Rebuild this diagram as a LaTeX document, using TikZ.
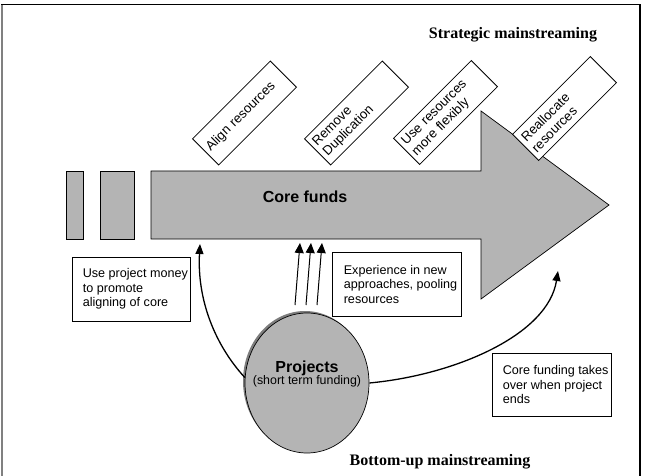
\documentclass[tikz,border=0pt]{standalone}
\usepackage{fontspec}
\setmainfont{Liberation Serif}
\setsansfont{Liberation Sans}
\usetikzlibrary{arrows.meta,shapes.geometric}
\definecolor{fillgray}{RGB}{180,180,180}
\definecolor{shadowgray}{RGB}{125,125,125}
\begin{document}
\begin{tikzpicture}[x=1pt,y=-1pt,
  body/.style={font=\sffamily\fontsize{12.6}{14.5}\selectfont},
  txtbox/.style={draw, fill=white, line width=0.8pt, inner sep=0pt},
  boxtext/.style={body, align=left, anchor=west, inner sep=0pt},
  rotbox/.style={draw, fill=white, line width=0.8pt, rotate=45,
    minimum width=110pt, minimum height=37pt, text width=102pt,
    inner xsep=4pt, inner ysep=0pt, align=left,
    font=\sffamily\fontsize{13.2}{14.8}\selectfont},
  title/.style={font=\rmfamily\bfseries\fontsize{16}{18}\selectfont},
  flow/.style={line width=1.3pt, -{Triangle[length=10pt,width=8pt]}},
  push/.style={line width=1pt, -{Triangle[length=10pt,width=9pt]}},
]
\useasboundingbox (0,0) rectangle (648,476);
% frame
\draw[line width=2pt, gray] (2,476) -- (2,4);
\draw[line width=1.3pt] (1,4.5) -- (640,4.5) -- (640,476);

% core funds arrow
\draw[fill=fillgray, line width=0.7pt] (151,171) -- (481,171) -- (481,111) -- (609,205)
  -- (481,299) -- (481,239) -- (151,239) -- cycle;
\draw[fill=fillgray, line width=0.7pt] (66,171) rectangle (83,239);
\draw[fill=fillgray, line width=0.7pt] (100,171) rectangle (134,239);
\node[font=\sffamily\bfseries\fontsize{16}{18}\selectfont] (core) at (305,197) {Core funds};

% rotated boxes
\node[rotbox] (align) at (244.5,113) {Align resources};
\node[rotbox] (remove) at (356.5,113) {Remove\\Duplication};
\node[rotbox] (flex) at (445.5,112.5) {Use resources\\more flexibly};
\node[rotbox] (realloc) at (564.5,108.5) {Reallocate\\resources};

% titles
\node[title] (strat) at (513,35) {Strategic mainstreaming};
\node[title] (bottom) at (440,462) {Bottom-up mainstreaming};

% text boxes
\node[txtbox, minimum width=118pt, minimum height=64pt] (b1) at (131,289) {};
\node[boxtext] (b1t) at ([xshift=11pt]b1.west) {Use project money\\to promote\\aligning of core};
\node[txtbox, minimum width=129pt, minimum height=64pt] (b2) at (396.5,284) {};
\node[boxtext] (b2t) at ([xshift=12pt]b2.west) {Experience in new\\approaches, pooling\\resources};
\node[txtbox, minimum width=119pt, minimum height=63pt] (b3) at (551.5,384.5) {};
\node[boxtext] (b3t) at ([xshift=11pt]b3.west) {Core funding takes\\over when project\\ends};

% projects ellipse
\fill[shadowgray] (305,381) ellipse [x radius=62pt, y radius=70pt];
\node[ellipse, draw, fill=fillgray, line width=0.7pt, minimum width=124pt, minimum height=140pt, inner sep=0pt] (proj) at (307,383) {};
\node[align=center, inner sep=0pt] (projt) at (307,374)
  {{\sffamily\bfseries\fontsize{16}{18}\selectfont Projects}\\[-1pt]{\sffamily\fontsize{12.4}{14}\selectfont (short term funding)}};

% connectors
\coordinate (tipL) at (200,244);
\coordinate (tipR) at (558,271);
\coordinate (s1) at (295,305); \coordinate (t1) at (300,243);
\coordinate (s2) at (306,305); \coordinate (t2) at (311,243);
\coordinate (s3) at (317,305); \coordinate (t3) at (322,243);
\draw[flow] (proj.175) .. controls (215,345) and (197,300) .. (tipL);
\draw[flow] (proj.east) .. controls (455,375) and (548,335) .. (tipR);
\draw[push] (s1) -- (t1);
\draw[push] (s2) -- (t2);
\draw[push] (s3) -- (t3);
\end{tikzpicture}
\end{document}
